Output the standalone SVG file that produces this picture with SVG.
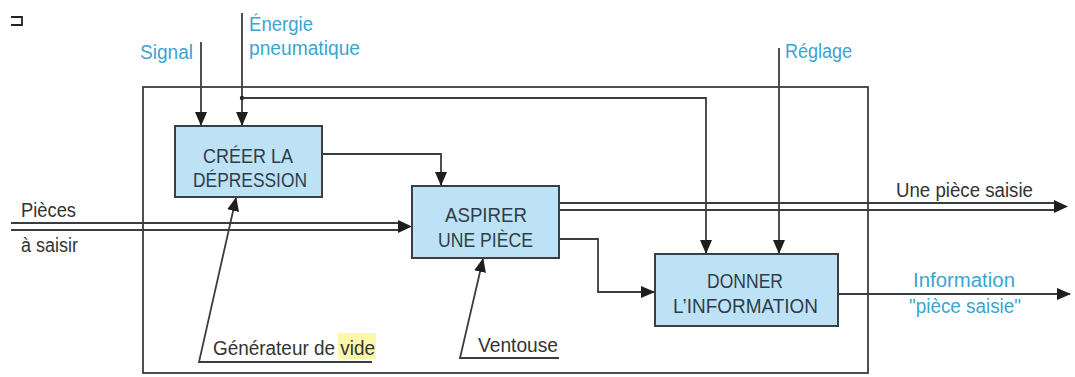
<svg xmlns="http://www.w3.org/2000/svg" width="1075" height="377" viewBox="0 0 1075 377">
<style>
.box{fill:#BEE2F5;stroke:#3a3f44;stroke-width:2}
.ln{fill:none;stroke:#3a3d40;stroke-width:1.8}
.bt{font-family:"Liberation Sans Narrow","Liberation Sans",Arial,sans-serif;font-size:21px;fill:#2e3d4c}
.lb{font-family:"Liberation Sans Narrow","Liberation Sans",Arial,sans-serif;font-size:19.5px;fill:#3aa5d2}
.dk{font-family:"Liberation Sans Narrow","Liberation Sans",Arial,sans-serif;font-size:19.5px;fill:#333}
</style>
<defs>
<marker id="ah" markerWidth="14" markerHeight="14" refX="13" refY="7" orient="auto" markerUnits="userSpaceOnUse">
<path d="M0,1 L14,7 L0,13 Z" fill="#1e1e1e"/>
</marker>
</defs>
<rect width="1075" height="377" fill="#fff"/>
<path d="M11,17 H22 V25 H11" fill="none" stroke="#222" stroke-width="1.8"/>
<rect id="frame" x="143" y="87" width="725" height="286" fill="none" stroke="#3a3d40" stroke-width="1.8"/>
<g id="connectors">
<line class="ln" x1="201" y1="42" x2="201" y2="125" marker-end="url(#ah)"/>
<line class="ln" x1="242" y1="13" x2="242" y2="125" marker-end="url(#ah)"/>
<circle cx="242" cy="98" r="2.2" fill="#222"/>
<polyline class="ln" points="242,98 706,98 706,253" marker-end="url(#ah)"/>
<line class="ln" x1="779" y1="48" x2="779" y2="253" marker-end="url(#ah)"/>
<polyline class="ln" points="322,154 441,154 441,185" marker-end="url(#ah)"/>
<line class="ln" x1="11" y1="223" x2="400" y2="223"/>
<line class="ln" x1="11" y1="230" x2="400" y2="230"/>
<path d="M398,220 L412,226.5 L398,233 Z" fill="#1e1e1e"/>
<line class="ln" x1="559" y1="203" x2="1056" y2="203"/>
<line class="ln" x1="559" y1="210" x2="1056" y2="210"/>
<path d="M1054,200 L1068,206.5 L1054,213 Z" fill="#1e1e1e"/>
<polyline class="ln" points="559,239 598,239 598,292 654,292" marker-end="url(#ah)"/>
<line class="ln" x1="838" y1="294" x2="1070" y2="294" marker-end="url(#ah)"/>
<polyline class="ln" points="372,362 199,362 236,198" marker-end="url(#ah)"/>
<polyline class="ln" points="559,358 460,358 483,259" marker-end="url(#ah)"/>
</g>
<g id="node-creer">
<rect class="box" x="175" y="126" width="147" height="71"/>
<text class="bt" x="203" y="163" textLength="90" lengthAdjust="spacingAndGlyphs">CRÉER LA</text>
<text class="bt" x="193" y="187" textLength="114" lengthAdjust="spacingAndGlyphs">DÉPRESSION</text>
</g>
<g id="node-aspirer">
<rect class="box" x="412" y="186" width="147" height="72"/>
<text class="bt" x="445" y="222" textLength="82" lengthAdjust="spacingAndGlyphs">ASPIRER</text>
<text class="bt" x="438" y="247" textLength="95" lengthAdjust="spacingAndGlyphs">UNE PIÈCE</text>
</g>
<g id="node-donner">
<rect class="box" x="655" y="254" width="183" height="72"/>
<text class="bt" x="707" y="288" textLength="76" lengthAdjust="spacingAndGlyphs">DONNER</text>
<text class="bt" x="673" y="313" textLength="145" lengthAdjust="spacingAndGlyphs">L’INFORMATION</text>
</g>
<g id="labels">
<text class="lb" x="140" y="59" textLength="53" lengthAdjust="spacingAndGlyphs">Signal</text>
<text class="lb" x="249" y="31" textLength="64" lengthAdjust="spacingAndGlyphs">Énergie</text>
<text class="lb" x="249" y="55" textLength="111" lengthAdjust="spacingAndGlyphs">pneumatique</text>
<text class="lb" x="785" y="58" textLength="67" lengthAdjust="spacingAndGlyphs">Réglage</text>
<text class="dk" x="896" y="197" textLength="137" lengthAdjust="spacingAndGlyphs">Une pièce saisie</text>
<text class="lb" x="913" y="287" textLength="102" lengthAdjust="spacingAndGlyphs">Information</text>
<text class="lb" x="909" y="313" textLength="112" lengthAdjust="spacingAndGlyphs">"pièce saisie"</text>
<text class="dk" x="21" y="217" textLength="55" lengthAdjust="spacingAndGlyphs">Pièces</text>
<text class="dk" x="21" y="252" textLength="57" lengthAdjust="spacingAndGlyphs">à saisir</text>
<rect x="338" y="333" width="38" height="26" fill="#FCF8A8"/>
<text class="dk" x="213" y="355" textLength="162" lengthAdjust="spacingAndGlyphs">Générateur de vide</text>
<text class="dk" x="478" y="352" textLength="80" lengthAdjust="spacingAndGlyphs">Ventouse</text>
</g>
</svg>
